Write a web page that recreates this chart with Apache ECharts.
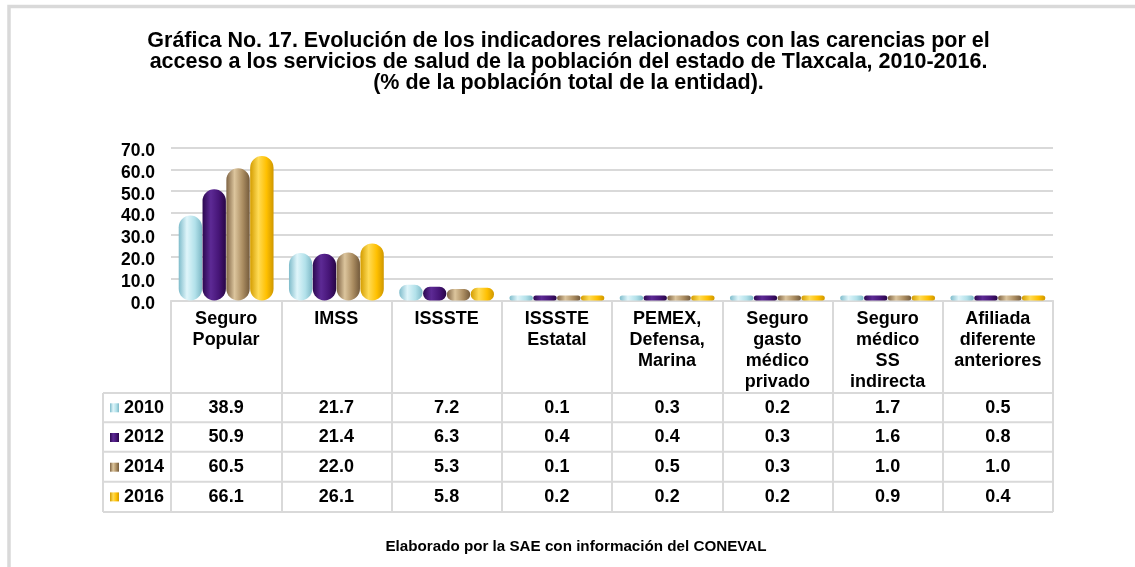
<!DOCTYPE html>
<html><head><meta charset="utf-8">
<script src="https://cdn.jsdelivr.net/npm/echarts@6/dist/echarts.min.js"></script>
<style>html,body{margin:0;padding:0;background:#fff}#c{width:1135px;height:567px}</style>
</head><body><div id="c"></div>
<script>
const titleText = 'Gráfica No. 17. Evolución de los indicadores relacionados con las carencias por el\nacceso a los servicios de salud de la población del estado de Tlaxcala, 2010-2016.\n(% de la población total de la entidad).';
const footerText = 'Elaborado por la SAE con información del CONEVAL';
const categories = ['Seguro\nPopular', 'IMSS', 'ISSSTE', 'ISSSTE\nEstatal', 'PEMEX,\nDefensa,\nMarina', 'Seguro\ngasto\nmédico\nprivado', 'Seguro\nmédico\nSS\nindirecta', 'Afiliada\ndiferente\nanteriores'];
const years = ['2010', '2012', '2014', '2016'];
const v2010 = [38.9, 21.7, 7.2, 0.1, 0.3, 0.2, 1.7, 0.5];
const v2012 = [50.9, 21.4, 6.3, 0.4, 0.4, 0.3, 1.6, 0.8];
const v2014 = [60.5, 22.0, 5.3, 0.1, 0.5, 0.3, 1.0, 1.0];
const v2016 = [66.1, 26.1, 5.8, 0.2, 0.2, 0.2, 0.9, 0.4];
const yMin = 0, yMax = 70, yStep = 10;

const values = [v2010, v2012, v2014, v2016];
const palettes = [
  ['#7fbccb', '#dff5fa', '#b2e1ea', '#7db8c6'],
  ['#2c0850', '#5d2a95', '#461577', '#280645'],
  ['#7f6444', '#dcc59d', '#ab8d61', '#735a3b'],
  ['#d39c00', '#ffdb55', '#ffc000', '#cf9700']
];
const FONT = "'Liberation Sans', Arial, sans-serif";
const chart = echarts.init(document.getElementById('c'), null, {renderer: 'canvas'});

function cyl(c) {
  return new echarts.graphic.LinearGradient(0, 0, 1, 0, [
    {offset: 0, color: c[0]}, {offset: 0.35, color: c[1]},
    {offset: 0.7, color: c[2]}, {offset: 1, color: c[3]}
  ]);
}

const gridTop = 147.5, gridBottomY = 300.5, tableBottom = 512;
const rowCenters = [407.8, 437.3, 467, 497];
const rowLines = [393, 422.3, 451.8, 481.8, 512];
const labelStyle = {fontFamily: FONT, fontSize: 18, fontWeight: 'bold', color: '#000'};

const xAxes = [{
  type: 'category', gridIndex: 0, position: 'bottom', data: categories,
  axisLine: {show: true, lineStyle: {color: '#d9d9d9', width: 2}},
  axisTick: {show: true, interval: 0, length: tableBottom - gridBottomY, lineStyle: {color: '#d9d9d9', width: 2}},
  axisLabel: Object.assign({interval: 0, margin: 8, lineHeight: 21, verticalAlign: 'top'}, labelStyle)
}];
values.forEach((vals, r) => {
  xAxes.push({
    type: 'category', gridIndex: 0, position: 'bottom', offset: rowCenters[r] - gridBottomY,
    data: categories,
    axisLine: {show: false}, axisTick: {show: false}, splitLine: {show: false},
    axisLabel: Object.assign({interval: 0, margin: 0, verticalAlign: 'middle',
      formatter: (v, i) => vals[i].toFixed(1)}, labelStyle)
  });
});

const graphics = [
  {type: 'rect', silent: true, shape: {x: 9, y: 6.5, width: 1300, height: 700},
   style: {fill: 'none', stroke: '#d9d9d9', lineWidth: 3.5}},
  {type: 'line', silent: true, shape: {x1: 103, y1: rowLines[0], x2: 103, y2: tableBottom},
   style: {stroke: '#d9d9d9', lineWidth: 2}},
  {type: 'text', silent: true, x: 568.5, y: 30.5,
   style: {text: titleText, fontFamily: FONT, fontSize: 21.5, fontWeight: 'bold', fill: '#000',
           lineHeight: 21, align: 'center', verticalAlign: 'top'}},
  {type: 'text', silent: true, x: 576, y: 547,
   style: {text: footerText, fontFamily: FONT, fontSize: 15.2, fontWeight: 'bold', fill: '#000',
           align: 'center', verticalAlign: 'middle'}}
];
rowLines.forEach(y => graphics.push({type: 'line', silent: true,
  shape: {x1: 103, y1: y, x2: 1053, y2: y}, style: {stroke: '#d9d9d9', lineWidth: 2}}));

chart.setOption({
  animation: false,
  textStyle: {fontFamily: FONT},
  legend: {
    orient: 'vertical', left: 105, top: rowCenters[0] - 10 - 5,
    itemWidth: 9, itemHeight: 9, itemGap: 9.7, icon: 'rect', selectedMode: false,
    data: years,
    textStyle: {fontFamily: FONT, fontSize: 18, fontWeight: 'bold', color: '#000', lineHeight: 20}
  },
  grid: {left: 171, right: 1135 - 1053, top: gridTop, bottom: 567 - gridBottomY, containLabel: false, outerBoundsMode: 'none'},
  xAxis: xAxes,
  yAxis: {
    type: 'value', min: yMin, max: yMax, interval: yStep,
    axisLine: {show: false}, axisTick: {show: false},
    splitLine: {lineStyle: {color: '#d9d9d9', width: 2}},
    axisLabel: Object.assign({margin: 16, formatter: v => v.toFixed(1), verticalAlign: 'top', lineHeight: 7}, labelStyle, {fontSize: 17.5})
  },
  series: values.map((vals, i) => ({
    name: years[i], type: 'bar', xAxisIndex: 0, data: vals,
    barCategoryGap: '14%', barGap: '2%', barMinHeight: 5,
    itemStyle: {color: cyl(palettes[i]), borderRadius: 12}
  })),
  graphic: graphics
});
</script></body></html>
